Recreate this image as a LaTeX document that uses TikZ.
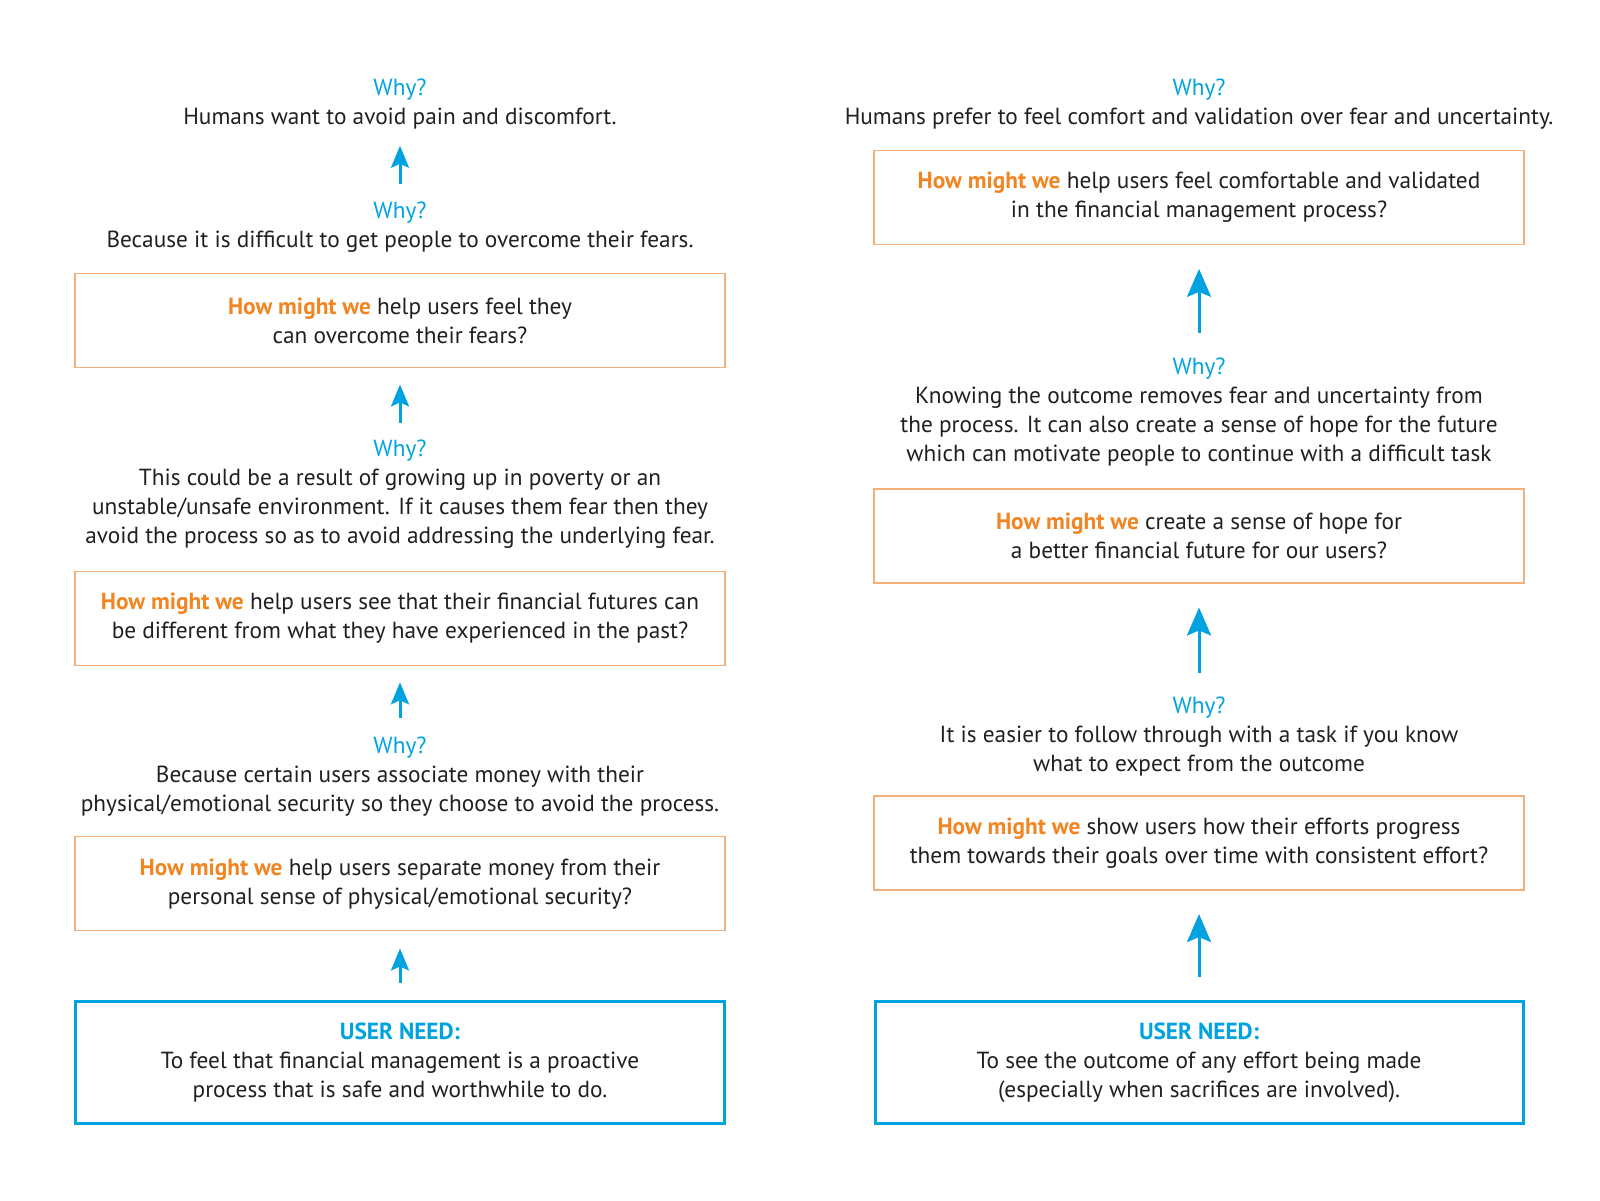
\documentclass[tikz,border=0pt]{standalone}
\usepackage{fontspec}
\setmainfont{PT Sans}
\usetikzlibrary{positioning, arrows.meta}

\definecolor{needblue}{RGB}{0,163,224}
\definecolor{hmworange}{RGB}{240,133,34}
\definecolor{boxorange}{RGB}{244,176,124}
\definecolor{ink}{RGB}{35,31,32}
\newcommand{\why}{\textcolor{needblue}{Why?}}
\newcommand{\hmw}{\textcolor{hmworange}{\bfseries How might we}}
\newcommand{\needhead}{\textcolor{needblue}{\bfseries USER NEED:}}

\begin{document}
\begin{tikzpicture}[%
    x=0.5102pt, y=-0.5102pt,
    on grid,
    font=\fontsize{11.65}{14.5}\selectfont,
    text=ink,
    hmwbox/.style={draw=boxorange, line width=0.8pt, minimum width=325pt,
      minimum height=47pt, align=center, inner sep=0pt},
    needbox/.style={draw=needblue, line width=1.5pt, minimum width=324pt,
      minimum height=61.2pt, align=center, inner sep=0pt},
    whytext/.style={align=center, inner sep=0pt},
    up/.style={-{Stealth[length=11pt,width=9pt,inset=2pt]}, needblue, line width=1.5pt},
    bigup/.style={-{Stealth[length=14pt,width=12pt,inset=2.5pt]}, needblue, line width=1.5pt}
  ]

  % left column
  \node[needbox] (needL) at (392,1041) {\needhead\\To feel that financial management is a proactive\\process that is safe and worthwhile to do.};
  \node[hmwbox] (boxL3) [above=89.3pt of needL] {\hmw{} help users separate money from their\\personal sense of physical/emotional security?};
  \node[whytext] (whyL4) [above=53.3pt of boxL3] {\why\\Because certain users associate money with their\\physical/emotional security so they choose to avoid the process.};
  \node[hmwbox] (boxL2) [above=79.3pt of whyL4] {\hmw{} help users see that their financial futures can\\be different from what they have experienced in the past?};
  \node[whytext] (whyL3) [above=62.2pt of boxL2] {\why\\This could be a result of growing up in poverty or an\\unstable/unsafe environment. If it causes them fear then they\\avoid the process so as to avoid addressing the underlying fear.};
  \node[hmwbox] (boxL1) [above=86.7pt of whyL3] {\hmw{} help users feel they\\can overcome their fears?};
  \node[whytext] (whyL2) [above=46.7pt of boxL1] {\why\\Because it is difficult to get people to overcome their fears.};
  \node[whytext] (whyL1) [above=61.5pt of whyL2] {\why\\Humans want to avoid pain and discomfort.};

  % right column
  \node[needbox] (needR) [right=399.5pt of needL] {\needhead\\To see the outcome of any effort being made\\(especially when sacrifices are involved).};
  \node[hmwbox] (boxR3) [above=109.7pt of needR] {\hmw{} show users how their efforts progress\\them towards their goals over time with consistent effort?};
  \node[whytext] (whyR2) [above=53.3pt of boxR3] {\why\\It is easier to follow through with a task if you know\\what to expect from the outcome};
  \node[hmwbox] (boxR2) [above=100pt of whyR2] {\hmw{} create a sense of hope for\\a better financial future for our users?};
  \node[whytext] (whyR1) [above=62.2pt of boxR2] {\why\\Knowing the outcome removes fear and uncertainty from\\the process. It can also create a sense of hope for the future\\which can motivate people to continue with a difficult task};
  \node[hmwbox] (boxR1) [above=107.1pt of whyR1] {\hmw{} help users feel comfortable and validated\\in the financial management process?};
  \node[whytext] (whyR0) [above=46.7pt of boxR1] {\why\\Humans prefer to feel comfort and validation over fear and uncertainty.};

  \path[up]
              (needL)     edge [shorten <=8.5pt, shorten >=8.5pt] (boxL3)
              (whyL4)     edge [shorten <=9.5pt, shorten >=8pt]   (boxL2)
              (whyL3)     edge [shorten <=8.2pt, shorten >=8pt]   (boxL1)
              (whyL2)     edge [shorten <=8.7pt, shorten >=8pt]   (whyL1);
  \path[bigup]
              (needR)     edge [shorten <=11.5pt, shorten >=11.7pt] (boxR3)
              (whyR2)     edge [shorten <=11.7pt, shorten >=11.7pt] (boxR2)
              (whyR1)     edge [shorten <=12.2pt, shorten >=11.7pt] (boxR1);

  \pgfresetboundingbox
  \useasboundingbox (0,0) rectangle (1568,1176);
\end{tikzpicture}
\end{document}
